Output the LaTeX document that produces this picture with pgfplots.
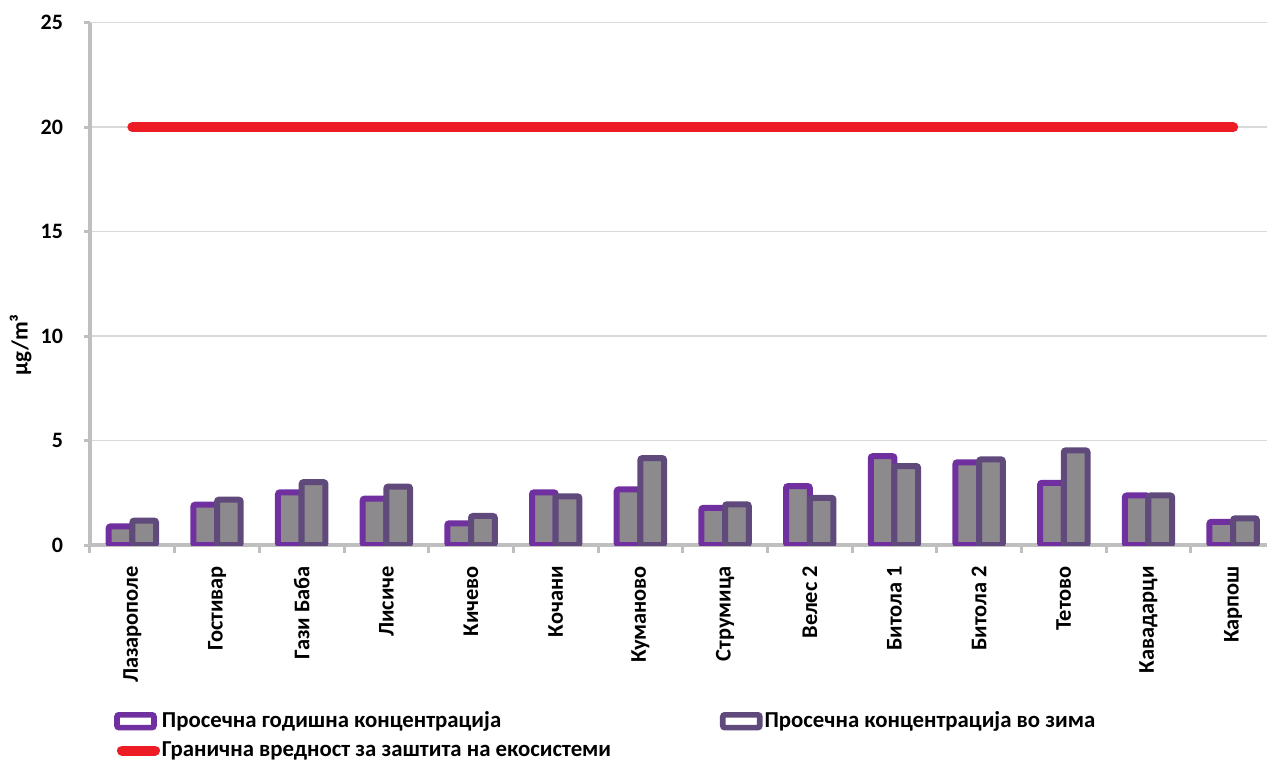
\documentclass[border=0pt]{standalone}
\usepackage{pgfplots}
\pgfplotsset{compat=1.18}
\usepackage{fontspec}
\setmainfont{Carlito}
\definecolor{annual}{RGB}{112,48,160}
\definecolor{winter}{RGB}{96,74,123}
\definecolor{barfill}{RGB}{140,138,140}
\definecolor{limred}{RGB}{237,28,36}
\definecolor{axgray}{RGB}{191,191,191}
\definecolor{grgray}{RGB}{217,217,217}
\pgfplotstableread{
x annual winter
0 0.89 1.17
1 1.93 2.17
2 2.52 3.01
3 2.22 2.80
4 1.04 1.39
5 2.52 2.33
6 2.66 4.16
7 1.78 1.95
8 2.82 2.26
9 4.25 3.78
10 3.96 4.10
11 2.98 4.53
12 2.37 2.37
13 1.11 1.28
}\datatable
\begin{document}
\begin{tikzpicture}
\begin{axis}[
  scale only axis,
  width=592.75pt, height=261.15pt,
  xmin=-0.5, xmax=13.5, ymin=0, ymax=25,
  axis x line*=bottom, axis y line*=left,
  axis line style={draw=axgray, line width=2pt, -},
  ytick={0,5,...,25},
  ymajorgrids, grid style={grgray, line width=0.75pt},
  xtick={0,...,13},
  xticklabels={Лазарополе,Гостивар,Гази Баба,Лисиче,Кичево,Кочани,Куманово,Струмица,Велес 2,Битола 1,Битола 2,Тетово,Кавадарци,Карпош},
  minor xtick={-0.5,0.5,...,13.5},
  tick align=outside,
  x tick style={draw=none},
  minor x tick style={draw=axgray, line width=1.5pt},
  minor tick length=4pt,
  y tick style={draw=axgray, line width=1.5pt},
  major tick length=3pt,
  /pgf/number format/assume math mode=true,
  yticklabel style={font=\bfseries\fontsize{11}{13}\selectfont, xshift=-7pt},
  xticklabel style={font=\bfseries\fontsize{11.2}{13}\selectfont, rotate=90, anchor=east, xshift=-4pt},
  ylabel={µg/m³},
  ylabel style={font=\bfseries\fontsize{11.5}{13}\selectfont, at={(axis description cs:-0.0585,0.383)}, anchor=center},
  ybar=0pt, bar width=11.85pt,
  legend columns=2,
  legend style={draw=none, fill=none, at={(0.015,-0.305)}, anchor=north west,
    font=\bfseries\fontsize{11.4}{13}\selectfont,
    nodes={inner xsep=1pt, inner ysep=1.5pt},
    /tikz/every odd column/.style={column sep=0pt},
    row sep=2.5pt},
  legend cell align=left,
]
\addplot+[ybar, draw=annual, fill=barfill, line width=3pt, rounded corners=1pt,
  legend image code/.code={\draw[draw=annual, line width=2.8pt, fill=white, rounded corners=1pt] (0pt,-3.2pt) rectangle (18.5pt,3.2pt);}]
  table[x=x, y=annual] {\datatable};
\addlegendentry{\makebox[278pt][l]{Просечна годишна концентрација}}
\addplot+[ybar, draw=winter, fill=barfill, line width=3pt, rounded corners=1pt,
  legend image code/.code={\draw[draw=winter, line width=2.8pt, fill=white, rounded corners=1pt] (0pt,-3.2pt) rectangle (18.5pt,3.2pt);}]
  table[x=x, y=winter] {\datatable};
\addlegendentry{Просечна концентрација во зима}
\addplot[sharp plot, draw=limred, line width=5pt, line cap=round, mark=none,
  legend image code/.code={\draw[draw=limred, line width=5pt, line cap=round] (2.5pt,0pt) -- (19pt,0pt);}]
  coordinates {(0,20) (1,20) (2,20) (3,20) (4,20) (5,20) (6,20) (7,20) (8,20) (9,20) (10,20) (11,20) (12,20) (13,20)};
\addlegendentry{\makebox[278pt][l]{Гранична вредност за заштита на екосистеми}}
\end{axis}
\pgfresetboundingbox
\useasboundingbox (-45pt,-108.5pt) rectangle (588.5pt,272.5pt);
\end{tikzpicture}
\end{document}
